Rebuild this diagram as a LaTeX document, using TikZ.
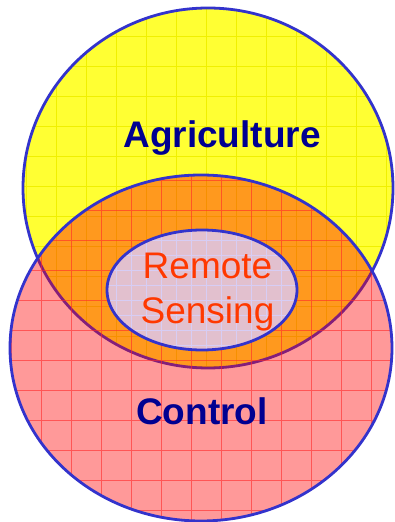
\documentclass[tikz,border=0pt]{standalone}
\usepackage{fontspec}
\setmainfont{Liberation Sans}

\definecolor{ringblue}{RGB}{51,51,204}
\definecolor{agriyellow}{RGB}{255,255,51}
\definecolor{agrigrid}{RGB}{240,240,0}
\definecolor{ctrlred}{RGB}{255,0,0}
\definecolor{ctrlgrid}{RGB}{255,40,40}
\definecolor{rsfill}{RGB}{226,192,206}
\definecolor{rsgrid}{RGB}{215,205,245}
\definecolor{labelnavy}{RGB}{0,0,145}
\definecolor{rsorange}{RGB}{255,56,0}

\tikzset{
  ring/.style={draw=ringblue,line width=2.8pt},
  biglabel/.style={text=labelnavy,font=\fontsize{37}{44}\selectfont\bfseries},
  rslabel/.style={text=rsorange,align=center,font=\fontsize{37}{45}\selectfont}
}

\begin{document}
\begin{tikzpicture}[x=10pt,y=10pt]
  \useasboundingbox (0,0) rectangle (39.4,52.2);
  % Agriculture circle, with its faint grid
  \fill[agriyellow] (20.8,33.4) ellipse [x radius=18.5, y radius=18];
  \begin{scope}
    \clip (20.8,33.4) ellipse [x radius=18.5, y radius=18];
    \draw[agrigrid,line width=0.9pt,step=3,shift={(2.67,0.53)}] (-6,-6) grid (42,54);
  \end{scope}
  \draw[ring] (20.8,33.4) ellipse [x radius=18.5, y radius=18];
  % Control circle, see-through red on top
  \fill[ctrlred,opacity=0.4] (20.1,17.4) ellipse [x radius=19.1, y radius=17.3];
  \begin{scope}
    \clip (20.1,17.4) ellipse [x radius=19.1, y radius=17.3];
    \draw[ctrlgrid,opacity=0.6,line width=0.9pt,step=3,shift={(1.17,1.2)}] (-6,-6) grid (45,54);
  \end{scope}
  \draw[ring] (20.1,17.4) ellipse [x radius=19.1, y radius=17.3];
  % Remote sensing in the overlap
  \fill[rsfill] (20.2,23.2) ellipse [x radius=9.5, y radius=6];
  \begin{scope}
    \clip (20.2,23.2) ellipse [x radius=9.5, y radius=6];
    \draw[rsgrid,line width=0.6pt,step=1.5,shift={(1.17,1.2)}] (-6,-6) grid (45,54);
  \end{scope}
  \draw[ring] (20.2,23.2) ellipse [x radius=9.5, y radius=6];
  % labels
  \node[biglabel] (agri) at (22.2,38.4) {Agriculture};
  \node[biglabel] (ctrl) at (20.2,11.1) {Control};
  \node[rslabel]  (rs)   at (20.75,22.95) {Remote\\Sensing};
\end{tikzpicture}
\end{document}
